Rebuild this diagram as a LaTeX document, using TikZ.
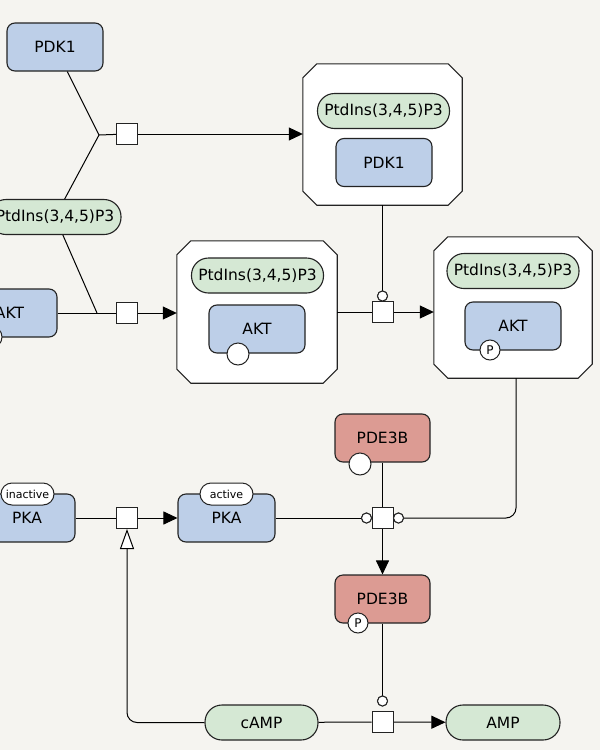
\documentclass[tikz,border=0pt]{standalone}
\usepackage{fontspec}
\setmainfont{DejaVu Sans}
\usetikzlibrary{arrows.meta}
\definecolor{bgc}{RGB}{245,244,240}
\definecolor{macblue}{RGB}{189,207,232}
\definecolor{smgreen}{RGB}{213,232,212}
\definecolor{nared}{RGB}{220,155,147}
\definecolor{edgec}{RGB}{35,35,35}
\tikzset{
  glyph/.style={draw=edgec, line width=1.1pt, inner sep=0pt, font=\fontsize{15.5}{18}\selectfont},
  macro/.style={glyph, rectangle, rounded corners=8pt, fill=macblue, minimum width=96pt, minimum height=48pt},
  nucl/.style={glyph, rectangle, rounded corners=8pt, fill=nared, minimum width=95pt, minimum height=48pt},
  smol/.style={glyph, rectangle, rounded corners=17pt, fill=smgreen, minimum width=#1, minimum height=35pt},
  smol/.default=132pt,
  cplx/.style={rectangle, inner sep=0pt},
  cplxline/.style={draw=edgec, line width=1.1pt, fill=white},
  stv/.style={draw=edgec, line width=1pt, fill=white, circle, inner sep=0pt, minimum size=22pt},
  pstv/.style={draw=edgec, line width=1pt, fill=white, circle, inner sep=0pt, minimum size=20pt, font=\fontsize{12}{14}\selectfont},
  unit/.style={draw=edgec, line width=1pt, fill=white, rectangle, rounded corners=11pt, inner sep=0pt, minimum width=53pt, minimum height=22pt, font=\fontsize{11}{13}\selectfont},
  proc/.style={draw=edgec, line width=1pt, fill=white, rectangle, inner sep=0pt, minimum size=21pt},
  modc/.style={draw=edgec, line width=1pt, fill=white, circle, inner sep=0pt, minimum size=10pt},
  conn/.style={draw=black, line width=1pt},
  prod/.style={conn, -{Triangle[length=14pt,width=13pt]}},
  stim/.style={conn, -{Triangle[open, length=20pt, width=14pt, fill=white]}},
}
\newcommand\cplxshape[1]{%
  \path[cplxline] ([xshift=14pt]#1.north west) -- ([xshift=-14pt]#1.north east)
    -- ([yshift=-14pt]#1.north east) -- ([yshift=14pt]#1.south east)
    -- ([xshift=-14pt]#1.south east) -- ([xshift=14pt]#1.south west)
    -- ([yshift=14pt]#1.south west) -- ([yshift=-14pt]#1.north west) -- cycle;}
\begin{document}
\begin{tikzpicture}[x=1pt,y=-1pt]
\fill[bgc] (0,0) rectangle (600,750);
\useasboundingbox (0,0) rectangle (600,750);

% complexes
\node[cplx, minimum width=159pt, minimum height=141pt] (cxpdk) at (382.5,134.5) {};
\node[cplx, minimum width=160pt, minimum height=142pt] (cxakt1) at (257,312) {};
\node[cplx, minimum width=158pt, minimum height=141pt] (cxakt2) at (513,307.5) {};
\cplxshape{cxpdk}
\cplxshape{cxakt1}
\cplxshape{cxakt2}

% glyphs
\node[macro] (pdk1) at (55,47) {PDK1};
\node[smol] (pip) at (55,217) {PtdIns(3,4,5)P3};
\node[macro, minimum width=95pt] (aktL) at (9.5,313) {AKT};
\node[stv] (aktLs) at (-9,337) {};

\node[smol] (pipc1) at (383.5,111) {PtdIns(3,4,5)P3};
\node[macro] (pdkc) at (384,162.5) {PDK1};

\node[smol] (pipc2) at (257.5,275.5) {PtdIns(3,4,5)P3};
\node[macro] (aktc1) at (257,329) {AKT};
\node[stv] (aktc1s) at (238,354) {};

\node[smol] (pipc3) at (513,271) {PtdIns(3,4,5)P3};
\node[macro] (aktc2) at (513,326) {AKT};
\node[pstv] (aktc2s) at (490,350) {P};

\node[nucl] (pde1) at (382.5,438) {PDE3B};
\node[stv] (pde1s) at (360,464) {};
\node[nucl] (pde2) at (382.5,599) {PDE3B};
\node[pstv] (pde2s) at (358,623) {P};

\node[macro] (pkai) at (27,518) {PKA};
\node[unit] (pkaiu) at (27.5,494) {inactive};
\node[macro, minimum width=97pt] (pkaa) at (226.5,518) {PKA};
\node[unit] (pkaau) at (226.5,494) {active};

\node[smol=113pt] (camp) at (261.5,722.5) {cAMP};
\node[smol=114pt] (amp) at (503,722.5) {AMP};

% process nodes
\coordinate (j1) at (99,135);
\coordinate (j2) at (97,313);
\node[proc] (p1) at (127,134) {};
\node[proc] (p2) at (127,313) {};
\node[proc] (p3) at (382.5,312) {};
\node[proc] (p4) at (382.5,518) {};
\node[proc] (p5) at (127,518) {};
\node[proc] (p6) at (382.5,722) {};

\node[modc] (m3) at (382.5,296) {};
\node[modc] (m4l) at (366.5,518) {};
\node[modc] (m4r) at (398.5,518) {};
\node[modc] (m6) at (382.5,701) {};

% connectors
\draw[conn] (pdk1) -- (j1);
\draw[conn] (pip) -- (j1);
\draw[conn] (j1) -- (p1);
\draw[prod] (p1) -- (p1 -| cxpdk.west);

\draw[conn] (pip) -- (j2);
\draw[conn] (aktL) -- (p2);
\draw[prod] (p2) -- (p2 -| cxakt1.west);

\draw[conn] (cxakt1.east |- p3) -- (p3);
\draw[prod] (p3) -- (p3 -| cxakt2.west);
\draw[conn] (cxpdk.south -| m3) -- (m3);

\draw[conn, rounded corners=10pt] (cxakt2.south -| 516,0) |- (m4r);
\draw[conn] (pkaa) -- (m4l);
\draw[conn] (pde1) -- (p4);
\draw[prod] (p4) -- (pde2);

\draw[conn] (pkai) -- (p5);
\draw[prod] (p5) -- (pkaa);
\draw[stim, rounded corners=10pt] (camp.west) -| (p5.south);

\draw[conn] (pde2.south -| m6) -- (m6);
\draw[conn] (camp) -- (p6);
\draw[prod] (p6) -- (amp);

% redraw process squares and modulator circles on top
\node[proc] at (p1) {};
\node[proc] at (p2) {};
\node[proc] at (p3) {};
\node[proc] at (p4) {};
\node[proc] at (p5) {};
\node[proc] at (p6) {};
\node[modc] at (m3) {};
\node[modc] at (m4l) {};
\node[modc] at (m4r) {};
\node[modc] at (m6) {};
\end{tikzpicture}
\end{document}
